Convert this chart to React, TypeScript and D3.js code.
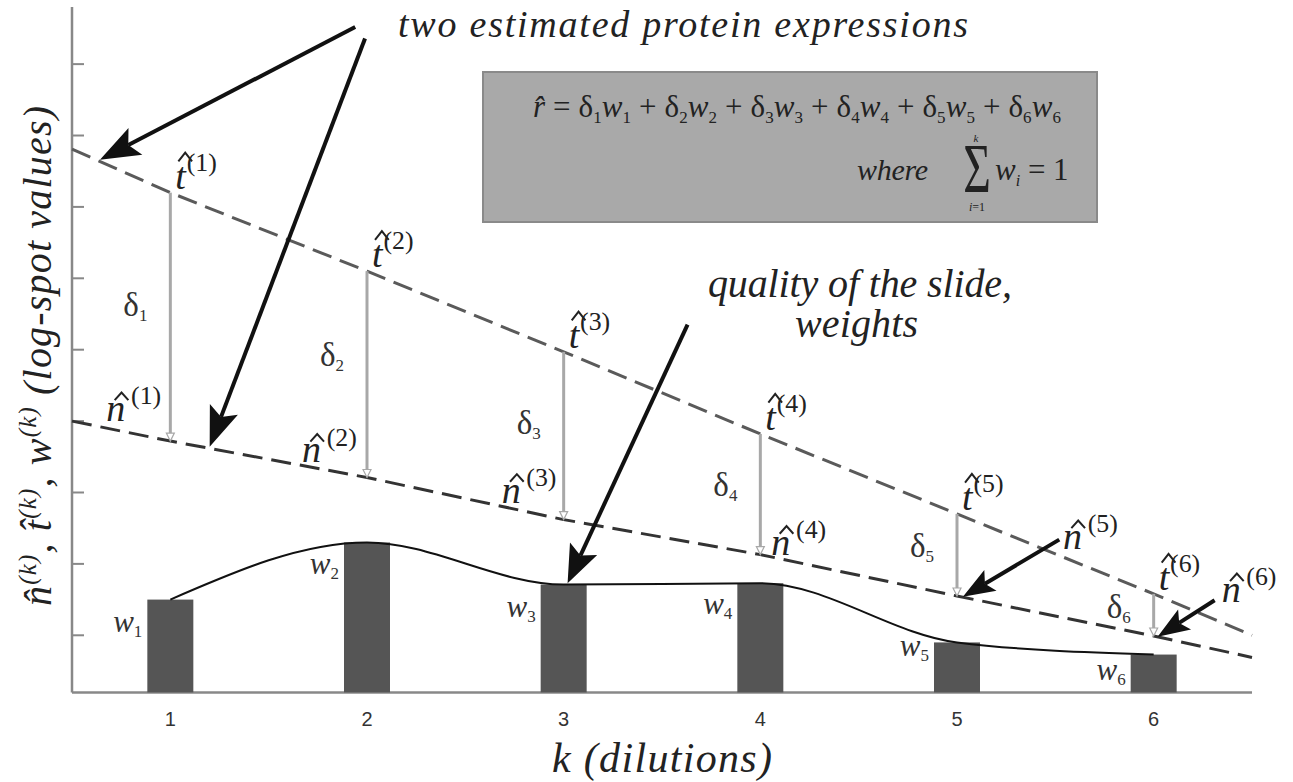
import React from 'react';
import * as d3 from 'd3';

// ---- data ----
const dilutions = [1, 2, 3, 4, 5, 6];
const tHat = [7.2, 6.1, 4.97, 3.82, 2.7, 1.58];
const nHat = [3.72, 3.21, 2.62, 2.13, 1.55, 0.99];
const weights = [1.5, 2.3, 1.71, 1.73, 0.9, 0.73];
const lineExtentK = [0.5, 6.5];
const tHatEnds = [7.81, 1.0];
const nHatEnds = [4.0, 0.69];
const yTickValues = [1, 2, 3, 4, 5, 6, 7, 8, 9];
const xTickLabels = ['1', '2', '3', '4', '5', '6'];
const arrowsFrom = [[1.94, 9.52], [1.99, 9.36], [3.63, 5.35], [5.52, 2.34], [6.31, 1.49]];
const arrowsTo = [[0.642, 7.66], [1.2, 3.64], [3.02, 1.73], [5.03, 1.54], [6.02, 0.98]];

// ---- layout helpers (pixels) ----
const nLabelOffset = [[-64, -20], [-65, -15], [-62, -17], [11, 0], [106, -47], [68, -34]];
const deltaLabelDy = [-1, -8, -2, 2, 2, 3];
const wLabelDy = [32, 32, 32, 31, 14, 25];
const arrowHead = [[40, 15], [40, 15], [38, 15], [32, 12], [32, 12]];

const SERIF = '"Liberation Serif", "DejaVu Serif", serif';
const SANS = '"Liberation Sans", Arial, sans-serif';
const INK = '#222';

function HatSym({ x, y, letter, sup, size = 38 }: { x: number; y: number; letter: string; sup: string; size?: number }) {
  const isT = letter === 't';
  const cx = x + (isT ? 0.26 : 0.4) * size;
  const bottom = y - (isT ? 0.72 : 0.55) * size;
  const apex = y - (isT ? 0.95 : 0.75) * size;
  const hw = 0.18 * size;
  const sx = x + (isT ? 0.3 : 0.65) * size;
  const sy = y - (isT ? 0.47 : 0.44) * size;
  return (
    <g fill={INK}>
      <text x={x} y={y} fontFamily={SERIF} fontStyle="italic" fontSize={size}>{letter}</text>
      <path d={`M${cx - hw},${bottom} L${cx},${apex} L${cx + hw},${bottom}`} fill="none" stroke={INK} strokeWidth={2} />
      <text x={sx} y={sy} fontFamily={SERIF} fontSize={size * 0.68}>{sup}</text>
    </g>
  );
}

function Arrow({ x1, y1, x2, y2, len, hw }: { x1: number; y1: number; x2: number; y2: number; len: number; hw: number }) {
  const dx = x2 - x1, dy = y2 - y1;
  const L = Math.hypot(dx, dy);
  const ux = dx / L, uy = dy / L;
  const px = -uy, py = ux;
  const bx = x2 - ux * len, by = y2 - uy * len;
  const mx = x2 - ux * len * 0.8, my = y2 - uy * len * 0.8;
  return (
    <g>
      <line x1={x1} y1={y1} x2={mx} y2={my} stroke="#111" strokeWidth={4} />
      <path d={`M${x2},${y2} L${bx + px * hw},${by + py * hw} L${mx},${my} L${bx - px * hw},${by - py * hw} Z`} fill="#111" />
    </g>
  );
}

export default function App() {
  const W = 1293, H = 782;
  const x = d3.scaleLinear().domain([0.5, 6.5]).range([72, 1252]);
  const y = d3.scaleLinear().domain([0.2, 9.8]).range([692.4, 7]);
  const yBase = y(0.2);

  const tPts: [number, number][] = [[lineExtentK[0], tHatEnds[0]], ...dilutions.map((k, i) => [k, tHat[i]] as [number, number]), [lineExtentK[1], tHatEnds[1]]];
  const nPts: [number, number][] = [[lineExtentK[0], nHatEnds[0]], ...dilutions.map((k, i) => [k, nHat[i]] as [number, number]), [lineExtentK[1], nHatEnds[1]]];
  const line = d3.line<[number, number]>().x(d => x(d[0])).y(d => y(d[1]));
  const wCurve = d3.line<[number, number]>().x(d => x(d[0])).y(d => y(d[1])).curve(d3.curveMonotoneX);
  const wPts = dilutions.map((k, i) => [k, weights[i]] as [number, number]);
  const barW = 46;

  return (
    <svg width={W} height={H} style={{ position: 'absolute', left: 0, top: 0, background: '#fff' }}>
      {/* axes */}
      <line x1={x(0.5)} y1={y(9.8)} x2={x(0.5)} y2={yBase} stroke="#888" strokeWidth={2.5} />
      <line x1={x(0.5)} y1={yBase} x2={x(6.5)} y2={yBase} stroke="#888" strokeWidth={2.5} />
      {yTickValues.map(v => (
        <line key={v} x1={x(0.5)} x2={x(0.5) + 12} y1={y(v)} y2={y(v)} stroke="#888" strokeWidth={2} />
      ))}
      {dilutions.map((k, i) => (
        <text key={k} x={x(k)} y={726} textAnchor="middle" fontFamily={SANS} fontSize={20} fill="#333">{xTickLabels[i]}</text>
      ))}

      {/* bars */}
      {dilutions.map((k, i) => (
        <rect key={k} x={x(k) - barW / 2} y={y(weights[i])} width={barW} height={yBase - y(weights[i])} fill="#555" />
      ))}
      <path d={wCurve(wPts) || ''} fill="none" stroke="#111" strokeWidth={2} />

      {/* estimated lines */}
      <path d={line(tPts) || ''} fill="none" stroke="#5a5a5a" strokeWidth={3} strokeDasharray="20 9" />
      <path d={line(nPts) || ''} fill="none" stroke="#333" strokeWidth={3} strokeDasharray="20 9" />

      {/* delta verticals */}
      {dilutions.map((k, i) => {
        const xx = x(k), y1 = y(tHat[i]), y2 = y(nHat[i]);
        return (
          <g key={k}>
            <line x1={xx} x2={xx} y1={y1} y2={y2 - 2} stroke="#a8a8a8" strokeWidth={3} />
            <path d={`M${xx - 4},${y2 - 8} L${xx},${y2} L${xx + 4},${y2 - 8} Z`} fill="#fff" stroke="#a8a8a8" strokeWidth={1.2} />
          </g>
        );
      })}

      {/* delta labels */}
      {dilutions.map((k, i) => (
        <text key={k} x={x(k) - 47} y={(y(tHat[i]) + y(nHat[i])) / 2 + deltaLabelDy[i]} fontFamily={SERIF} fontSize={33} fill="#333">
          δ<tspan fontSize={17} dy={5}>{k}</tspan>
        </text>
      ))}

      {/* w labels */}
      {dilutions.map((k, i) => (
        <text key={k} x={x(k) - barW / 2 - 5} y={y(weights[i]) + wLabelDy[i]} textAnchor="end" fontFamily={SERIF} fontSize={31} fill="#333">
          <tspan fontStyle="italic">w</tspan><tspan fontSize={17} dy={5}>{k}</tspan>
        </text>
      ))}

      {/* t-hat and n-hat labels */}
      {dilutions.map((k, i) => (
        <HatSym key={'t' + k} x={x(k) + 5} y={y(tHat[i]) - 4} letter="t" sup={`(${k})`} />
      ))}
      {dilutions.map((k, i) => (
        <HatSym key={'n' + k} x={x(k) + nLabelOffset[i][0]} y={y(nHat[i]) + nLabelOffset[i][1]} letter="n" sup={`(${k})`} />
      ))}

      {/* arrows */}
      {arrowsFrom.map((f, i) => (
        <Arrow key={i} x1={x(f[0])} y1={y(f[1])} x2={x(arrowsTo[i][0])} y2={y(arrowsTo[i][1])} len={arrowHead[i][0]} hw={arrowHead[i][1]} />
      ))}

      {/* annotations */}
      <text x={398} y={37} fontFamily={SERIF} fontStyle="italic" fontSize={38} fill={INK} textLength={570}>two estimated protein expressions</text>
      <text x={708} y={297} fontFamily={SERIF} fontStyle="italic" fontSize={40} fill={INK} textLength={304}>quality of the slide,</text>
      <text x={795} y={337} fontFamily={SERIF} fontStyle="italic" fontSize={40} fill={INK} textLength={123}>weights</text>

      {/* formula box */}
      <rect x={483} y={72} width={614} height={150} fill="#a9a9a9" stroke="#8a8a8a" strokeWidth={2} />
      <text x={533} y={117} fontFamily={SERIF} fontSize={31} fill={INK} style={{ whiteSpace: 'pre' }} textLength={528}>
        <tspan fontStyle="italic">{'r\u0302'}</tspan>
        <tspan>{' = '}</tspan>
        {dilutions.map(k => (
          <React.Fragment key={k}>
            <tspan>δ</tspan>
            <tspan fontSize={17} dy={6}>{k}</tspan>
            <tspan fontStyle="italic" dy={-6}>w</tspan>
            <tspan fontSize={17} dy={6}>{k}</tspan>
            <tspan dy={-6}>{k < 6 ? ' + ' : ''}</tspan>
          </React.Fragment>
        ))}
      </text>
      <text x={857} y={180} fontFamily={SERIF} fontStyle="italic" fontSize={30} fill={INK} textLength={71}>where</text>
      <text x={977} y={192} textAnchor="middle" fontFamily={SERIF} fontSize={50} fill={INK} transform="translate(977,192) scale(0.95,1.4) translate(-977,-192)">Σ</text>
      <text x={976} y={142} textAnchor="middle" fontFamily={SERIF} fontStyle="italic" fontSize={11} fill={INK}>k</text>
      <text x={977} y={211} textAnchor="middle" fontFamily={SERIF} fontSize={12} fill={INK}><tspan fontStyle="italic">i</tspan>=1</text>
      <text x={995} y={180} fontFamily={SERIF} fontSize={31} fill={INK} style={{ whiteSpace: 'pre' }}>
        <tspan fontStyle="italic">w</tspan><tspan fontSize={16} dy={6} fontStyle="italic">i</tspan><tspan dy={-6}>{' = 1'}</tspan>
      </text>

      {/* axis titles */}
      <text x={662} y={772} textAnchor="middle" fontFamily={SERIF} fontStyle="italic" fontSize={42} fill={INK} textLength={220}>k (dilutions)</text>
      <text transform="translate(51,356) rotate(-90)" textAnchor="middle" fontFamily={SERIF} fontStyle="italic" fontSize={40} fill={INK} textLength={500}>
        {'n\u0302'}<tspan dy={-15} fontSize={25}>(k)</tspan><tspan dy={15}>{', t\u0302'}</tspan><tspan dy={-15} fontSize={25}>(k)</tspan><tspan dy={15}>, w</tspan><tspan dy={-15} fontSize={25}>(k)</tspan><tspan dy={15}> (log-spot values)</tspan>
      </text>
    </svg>
  );
}
